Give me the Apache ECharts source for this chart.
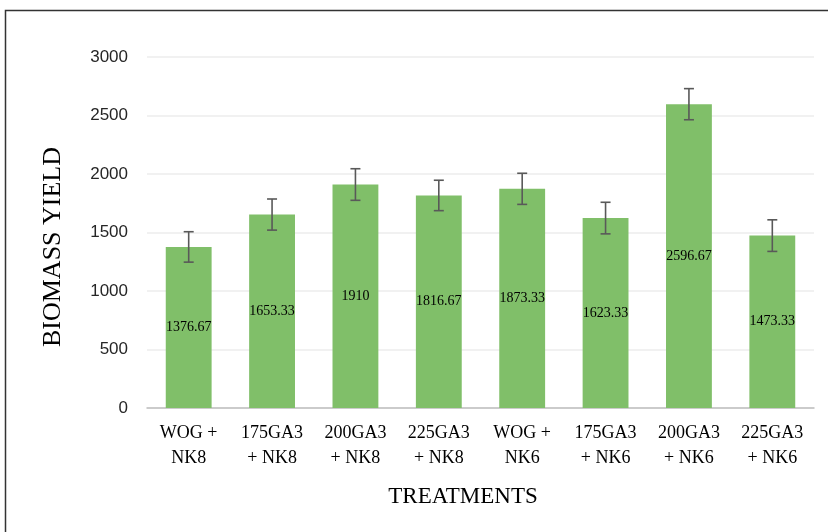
<!DOCTYPE html>
<html>
<head>
<meta charset="utf-8">
<title>Biomass yield</title>
<script src="https://cdn.jsdelivr.net/npm/echarts@6/dist/echarts.min.js"></script>
<style>
  html, body { margin: 0; padding: 0; background: #fff; }
  #chart { width: 828px; height: 532px; }
</style>
</head>
<body>
<div id="chart"></div>
<script type="text/javascript">
  var categories = ['WOG +\nNK8', '175GA3\n+ NK8', '200GA3\n+ NK8', '225GA3\n+ NK8',
                    'WOG +\nNK6', '175GA3\n+ NK6', '200GA3\n+ NK6', '225GA3\n+ NK6'];
  var yieldValues = [1376.67, 1653.33, 1910, 1816.67, 1873.33, 1623.33, 2596.67, 1473.33];
  var errorValues = [130, 133, 135, 130, 133, 135, 133, 135];
  var yTicks = [0, 500, 1000, 1500, 2000, 2500, 3000];

  var errorData = yieldValues.map(function (v, i) {
    return [i, v - errorValues[i], v + errorValues[i]];
  });

  var serif = '"Liberation Serif", "Times New Roman", serif';
  var sans = '"Liberation Sans", Arial, sans-serif';

  var option = {
    animation: false,
    backgroundColor: '#fff',
    grid: { left: 147, right: 14, top: 57, bottom: 124 },
    xAxis: {
      type: 'category',
      data: categories,
      axisLine: { lineStyle: { color: '#bfbfbf', width: 1.5 } },
      axisTick: { show: false },
      axisLabel: {
        interval: 0,
        margin: 13,
        color: '#000',
        fontFamily: serif,
        fontSize: 18,
        lineHeight: 25
      }
    },
    yAxis: {
      type: 'value',
      min: yTicks[0],
      max: yTicks[yTicks.length - 1],
      interval: 500,
      axisLine: { show: false },
      axisTick: { show: false },
      splitLine: { lineStyle: { color: '#ececec', width: 1.5 } },
      axisLabel: {
        margin: 19,
        color: '#262626',
        fontFamily: sans,
        fontSize: 17,
        formatter: function (v) { return String(v); }
      }
    },
    series: [
      {
        type: 'bar',
        data: yieldValues,
        barWidth: '55%',
        itemStyle: { color: '#80bf69' },
        label: {
          show: true,
          position: 'inside',
          color: '#000',
          fontFamily: serif,
          fontSize: 14,
          formatter: function (p) { return String(p.value); }
        },
        z: 2
      },
      {
        type: 'custom',
        data: errorData,
        z: 3,
        renderItem: function (params, api) {
          var x = api.value(0);
          var lo = api.coord([x, api.value(1)]);
          var hi = api.coord([x, api.value(2)]);
          var half = 5;
          var style = { stroke: '#595959', lineWidth: 1.6 };
          return {
            type: 'group',
            children: [
              { type: 'line', shape: { x1: lo[0], y1: lo[1], x2: hi[0], y2: hi[1] }, style: style },
              { type: 'line', shape: { x1: hi[0] - half, y1: hi[1], x2: hi[0] + half, y2: hi[1] }, style: style },
              { type: 'line', shape: { x1: lo[0] - half, y1: lo[1], x2: lo[0] + half, y2: lo[1] }, style: style }
            ]
          };
        }
      }
    ],
    graphic: [
      {
        type: 'rect',
        shape: { x: 5.5, y: 10.5, width: 900, height: 900 },
        style: { fill: 'none', stroke: '#333', lineWidth: 1.5 },
        silent: true
      },
      {
        type: 'text',
        x: 53, y: 247,
        rotation: Math.PI / 2,
        style: {
          text: 'BIOMASS YIELD',
          fill: '#000',
          font: '26px ' + serif,
          align: 'center',
          verticalAlign: 'middle'
        }
      },
      {
        type: 'text',
        x: 463, y: 497,
        style: {
          text: 'TREATMENTS',
          fill: '#000',
          font: '23px ' + serif,
          align: 'center',
          verticalAlign: 'middle'
        }
      }
    ]
  };

  var myChart = echarts.init(document.getElementById('chart'));
  myChart.setOption(option);
</script>
</body>
</html>
